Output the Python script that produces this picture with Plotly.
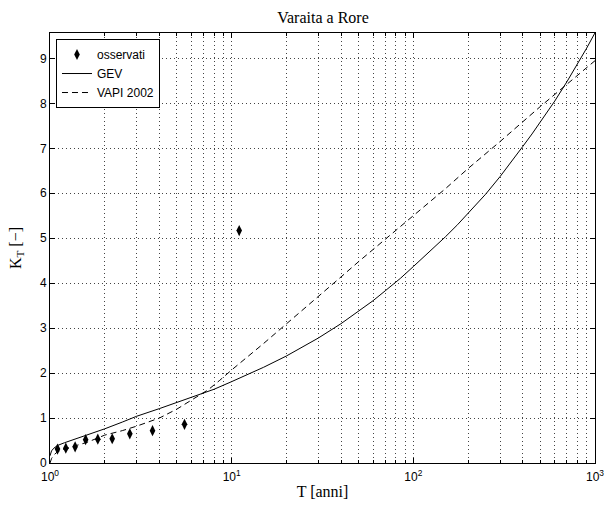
import plotly.graph_objects as go

# Observed points (Weibull plotting positions)
T_obs = [1.1, 1.222, 1.375, 1.571, 1.833, 2.2, 2.75, 3.667, 5.5, 11.0]
K_obs = [0.31, 0.33, 0.36, 0.52, 0.53, 0.54, 0.65, 0.72, 0.86, 5.17]

# GEV curve
T_gev = [1.0, 1.01, 1.02, 1.05, 1.1, 1.2, 1.35, 1.6, 2, 2.5, 3, 4, 5, 6.5, 8, 10,
         12.5, 15, 20, 25, 30, 40, 50, 60, 70, 85, 100, 125, 150, 175, 200, 250, 300, 350, 400, 450,
         500, 600, 700, 800, 900, 1000]
K_gev = [0.16, 0.23, 0.27, 0.33, 0.39, 0.45, 0.52, 0.62, 0.76, 0.91, 1.04, 1.21, 1.35, 1.50, 1.64, 1.81,
         1.98, 2.13, 2.38, 2.59, 2.78, 3.10, 3.37, 3.61, 3.83, 4.11, 4.37, 4.73, 5.03, 5.30, 5.55, 5.98,
         6.37, 6.72, 7.04, 7.32, 7.58, 8.05, 8.48, 8.87, 9.23, 9.57]

# VAPI 2002 curve
T_vapi = [1.0, 1.02, 1.05, 1.1, 1.2, 1.4, 1.6, 2.0, 2.5, 3.0, 4.0, 5.0, 6.27, 7.43, 8.6, 10,
          15, 20, 30, 40, 50, 70, 100, 150, 200, 300, 500, 700, 1000]
K_vapi = [0.0, 0.10, 0.18, 0.25, 0.31, 0.39, 0.46, 0.62, 0.72, 0.82, 1.0, 1.2, 1.45, 1.63, 1.84, 2.07,
          2.66, 3.10, 3.70, 4.14, 4.48, 4.98, 5.51, 6.10, 6.55, 7.15, 7.93, 8.43, 8.95]

x_major = [1, 10, 100, 1000]
x_major_text = ["10<sup>0</sup>", "10<sup>1</sup>", "10<sup>2</sup>", "10<sup>3</sup>"]
x_minor = [m * d for d in (1, 10, 100) for m in range(2, 10)]
y_ticks = list(range(0, 10))

sans = "Liberation Sans, Arial, Helvetica, sans-serif"
serif = "Liberation Serif, Times New Roman, serif"
grid_dash = "1px,3px"
grid_col = "#444444"

fig = go.Figure()
fig.add_trace(go.Scatter(x=T_obs, y=K_obs, mode="markers", name="osservati",
                         marker=dict(symbol="diamond-tall", size=8, color="black")))
fig.add_trace(go.Scatter(x=T_gev, y=K_gev, mode="lines", name="GEV",
                         line=dict(color="black", width=1)))
fig.add_trace(go.Scatter(x=T_vapi, y=K_vapi, mode="lines", name="VAPI 2002",
                         line=dict(color="black", width=1, dash="6px,4px")))

fig.update_layout(
    width=606, height=507,
    margin=dict(l=50, r=11, t=33, b=44),
    paper_bgcolor="white", plot_bgcolor="white",
    title=dict(text="Varaita a Rore", x=0.533, xanchor="center", y=1 - 17 / 507, yref="container",
               yanchor="middle",
               font=dict(family=serif, size=16, color="black")),
    showlegend=True,
    legend=dict(x=0.011, y=0.986, xanchor="left", yanchor="top",
                bgcolor="white", bordercolor="black", borderwidth=1,
                font=dict(family=sans, size=12, color="black"),
                tracegroupgap=0, itemwidth=30),
    xaxis=dict(type="log", range=[0, 3], automargin=False,
               tickvals=x_major, ticktext=x_major_text,
               ticks="inside", ticklen=5, tickcolor="black",
               showline=True, linecolor="black", linewidth=1, mirror="ticks",
               showgrid=True, gridcolor=grid_col, griddash=grid_dash, gridwidth=1,
               minor=dict(tickvals=x_minor, ticks="inside", ticklen=3, tickcolor="black",
                          showgrid=True, gridcolor=grid_col, griddash=grid_dash, gridwidth=1),
               tickfont=dict(family=sans, size=12, color="black"),
               ticklabelstandoff=3,
               title=dict(text="T [anni]", font=dict(family=serif, size=16, color="black"), standoff=2),
               zeroline=False),
    yaxis=dict(range=[0, 9.566], tickvals=y_ticks, automargin=False,
               ticks="inside", ticklen=5, tickcolor="black",
               showline=True, linecolor="black", linewidth=1, mirror="ticks",
               showgrid=True, gridcolor=grid_col, griddash=grid_dash, gridwidth=1,
               tickfont=dict(family=sans, size=12, color="black"),
               title=dict(text="K<sub>T</sub> [−]", font=dict(family=serif, size=16, color="black"), standoff=14),
               zeroline=False),
)

fig.write_html("out.html", config={"displayModeBar": False},
               post_script="document.body.style.margin='0px';")
